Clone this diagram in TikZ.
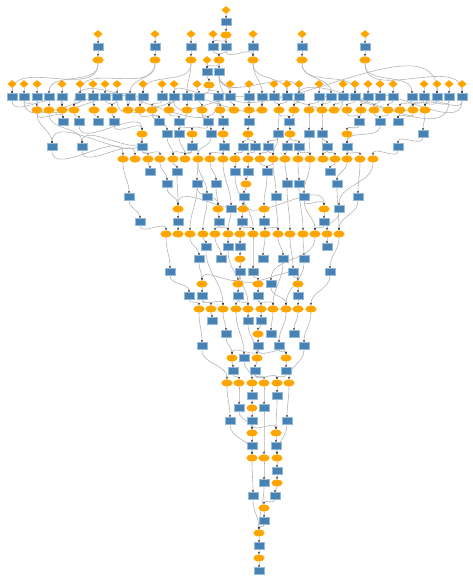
\documentclass[tikz,border=0pt]{standalone}
\usetikzlibrary{arrows.meta, shapes.geometric, backgrounds}
\definecolor{cblue}{HTML}{4682B4}
\definecolor{corange}{HTML}{FFA500}
\definecolor{cgrey}{HTML}{B4B4B4}
\tikzset{
  op/.style={rectangle, fill=cblue, draw=cblue!55!white, line width=0.3pt, inner sep=0pt, minimum width=7.5pt, minimum height=5.2pt},
  data/.style={ellipse, fill=corange, draw=none, inner sep=0pt, minimum width=8.4pt, minimum height=5.4pt},
  src/.style={diamond, fill=corange, draw=none, inner sep=0pt, minimum width=7pt, minimum height=6pt},
  edge/.style={-{Stealth[length=1.8pt, width=1.6pt, color=black!80]}, draw=cgrey, line width=0.45pt},
}

\begin{document}
\begin{tikzpicture}[x=0.75pt, y=-0.75pt]
  \useasboundingbox (0,0) rectangle (472,581);
  % operations
  \foreach \r/\y/\xs in {b/22/{226}, d/47/{98,155,191,213,226,253,302,365}, f/72/{207,219},
      h/97/{12,24,37,49,62,80,93,105,117,130,143,162,174,187,199,218,230,249,262,274,287,299,319,331,343,355,368,380,393,412,424,437,449,462},
      j/122/{63,79,98,114,159,179,208,223,249,289,359,380,398}, k/134/{167,179,211,278,309,322,423},
      l/147/{52,82,142,192,224,243,255,268,287,299,327,347,398}, n/172/{150,177,235,248,267,330},
      o/184/{167,197,216,287,299,337}, p/197/{129,207,244,276,304,358}, q/209/{231,339},
      r/222/{140,178,219,242,264,324}, t/247/{206,228,240,327}, u/259/{199,221,263,283,304},
      v/272/{170,240,253,293,330}, w/284/{271}, x/296/{189,202,238,258,298}, z/321/{212,248,261},
      aa/334/{226,271,294}, ab/346/{202,258,279,304}, ac/358/{244}, ad/371/{233,255,286},
      af/396/{252,277}, ag/408/{239,264}, ah/421/{230,252,287}, aj/446/{252,276}, al/471/{277},
      am/483/{264}, an/496/{253,275}, ap/521/{264}, ar/546/{259}, at/571/{259}} {
    \foreach \x in \xs \node[op] (\r\x) at (\x,\y) {};
  }
  % data
  \foreach \r/\y/\xs in {c/35/{226}, e/60/{98,155,191,219,253,302,365}, g/85/{209},
      i/110/{37,49,62,74,94,112,128,140,152,169,187,202,220,234,249,262,279,294,309,322,334,347,361,374,388,400,413,425},
      k/134/{142,192,223,248,290,347},
      m/159/{123,135,148,160,173,185,198,210,223,235,248,260,273,285,298,310,323,335,347,360,373},
      o/184/{246}, q/209/{178,218,243,264,324}, s/234/{166,178,190,203,215,228,240,253,265,278,290,303,315,327,339},
      u/259/{240}, w/284/{202,238,258,298}, y/309/{199,211,223,236,248,261,273,286,298,311},
      aa/334/{258}, ac/358/{232,257,286}, ae/383/{227,239,252,264,277,289}, ag/408/{252},
      ai/433/{252,276}, ak/458/{252,264,277}, am/483/{277}, ao/508/{264}, aq/533/{259}, as/558/{259}} {
    \foreach \x in \xs \node[data] (\r\x) at (\x,\y) {};
  }
  % sources
  \foreach \r/\y/\xs in {a/10/{226}, c/34/{98,155,191,213,253,302,365}, e/60/{207},
      g/84/{12,24,37,62,80,93,105,117,143,162,174,197,230,249,274,287,299,319,343,355,368,380,393,424,437,449,462}} {
    \foreach \x in \xs \node[src] (\r\x) at (\x,\y) {};
  }
  \begin{scope}[on background layer]
    \foreach \a/\b in {a226/b226, b226/c226,
        c98/d98, c155/d155, c191/d191, c213/d213, c226/d213, c226/d226, c253/d253, c302/d302, c365/d365,
        d98/e98, d155/e155, d191/e191, d213/e219, d226/e219, d226/e253, d253/e253, d302/e302, d365/e365,
        e207/f207, e219/f207, e219/f219, f207/g209,
        g12/h12, g24/h24, g37/h37, e98/h49, g62/h62, g80/h80, g93/h93, g105/h105, g117/h117, e155/h130,
        g143/h143, g162/h162, g174/h174, e191/h187, g197/h199, g209/h218, g230/h230, g249/h249, e253/h262,
        g274/h274, g287/h287, g299/h299, g319/h319, e302/h331, g343/h343, g355/h355, g368/h368, g380/h380,
        g393/h393, e365/h412, g424/h424, g437/h437, g449/h449, g462/h462,
        e98/h12, e155/h80, e191/h143, f219/h230, f219/h299, f219/h437, g209/h174, e253/h287, e302/h355, e365/h462,
        h24/i37, h37/i37, h49/i49, h12/i62, h62/i62, h80/i74, h93/i94, h105/i112, h117/i112, h130/i128,
        h143/i140, h162/i152, h174/i169, h187/i187, h199/i202, h218/i220, h230/i234, h249/i249, h262/i262,
        h274/i279, h287/i279, h299/i294, h319/i309, h331/i322, h343/i334, h355/i347, h368/i361, h380/i374,
        h393/i388, h412/i400, h424/i413, h437/i413, h449/i425, h462/i425,
        h24/i128, h37/i140, h117/i220, h174/i249, h218/i74, h262/i169, h343/i262, h412/i322, h462/i361, h449/i294,
        i62/j63, i37/j63, i74/j79, i94/j98, i112/j114, i152/j159, i140/j159, i169/j179, i202/j208, i220/j223,
        i249/j249, i294/j289, i279/j289, i361/j359, i347/j359, i374/j380, i388/j380, i400/j398, i413/j398,
        j79/k142, j114/k142, i152/k167, i187/k179, j179/k192, j208/k192, i202/k211, j223/k223, j249/k248,
        i279/k278, j289/k290, i309/k309, i322/k322, j359/k347, i425/k423,
        i37/l52, i49/l82, k142/l52, k142/l82, k142/l142, k192/l192, k223/l224, k248/l243, k248/l255, k278/l268,
        k290/l287, k290/l299, k322/l327, k347/l347, k423/l398, j380/l347,
        l52/m123, l82/m135, l142/m148, l142/m160, k167/m173, l192/m173, k179/m185, l192/m185, k211/m198,
        l224/m210, l224/m223, l243/m235, l255/m248, l268/m260, l268/m273, k278/m273, l287/m285, l299/m298,
        k309/m310, l299/m310, k322/m323, l327/m323, l327/m335, l347/m347, l347/m360, l398/m373,
        m148/n150, m173/n177, m235/n235, m248/n248, m260/n267, m273/n267, m335/n330,
        m160/o167, m198/o197, m210/o216, n248/o246, m285/o287, m298/o299, m347/o337,
        m123/p129, m198/p207, o246/p244, m273/p276, m310/p304, m360/p358,
        o167/q178, n177/q178, p244/q178, o216/q218, o197/q218, p244/q243, n267/q264, p244/q324, p304/q324,
        m223/q231, m373/q339,
        p129/r140, q178/r178, q218/r219, q243/r242, q264/r264, q324/r324,
        r140/s166, r178/s178, o197/s190, p207/s203, r219/s215, r219/s228, q231/s228, r242/s240, r242/s253,
        n235/s253, r264/s265, p276/s278, r264/s278, o287/s290, o299/s303, r324/s315, p304/s315, q339/s327,
        p358/s339, o337/s339,
        s203/t206, s228/t228, s240/t240, s327/t327,
        s190/u199, s215/u221, t240/u240, s265/u263, s278/u283, s303/u304,
        s166/v170, u240/v240, s253/v253, s290/v293, s339/v330,
        u199/w202, v240/w202, v240/w238, v253/w258, v240/w298, v293/w298, s315/w271,
        v170/x189, w202/x202, w238/x238, w258/x258, w298/x298,
        x189/y199, x202/y211, x202/y223, t206/y223, x238/y236, t228/y248, x238/y248, x258/y261, u283/y273,
        x258/y273, w271/y286, u304/y286, x298/y298, v330/y311,
        y211/z212, y248/z248, y261/z261,
        y223/aa226, z261/aa258, y273/aa271, y298/aa294,
        y199/ab202, aa258/ab258, y286/ab279, y311/ab304,
        aa226/ac232, ab258/ac232, z248/ac257, ab279/ac286, ab258/ac286, y236/ac244,
        ac232/ad233, ac257/ad255, ac286/ad286,
        ab202/ae227, ad233/ae239, ac244/ae252, ad255/ae264, ad255/ae277, ad286/ae277, ab304/ae289,
        ae252/af252, ae277/af277, ae239/ag239, af252/ag252, ae264/ag264,
        ae227/ah230, ag252/ah252, ae289/ah287,
        ah252/ai252, ag239/ai252, af277/ai276, ah252/ai276, ai252/aj252, ai276/aj276,
        aj252/ak252, ah230/ak252, ag264/ak264, aj276/ak277, ah287/ak277,
        ak277/al277, ak264/am264, al277/am277, ak252/an253, am277/an275, an275/ao264, ao264/ap264,
        ap264/aq259, an253/aq259, am264/aq259, aq259/ar259, ar259/as259, as259/at259}
      \draw[edge] (\a) to[out=-90, in=90] (\b);
  \end{scope}
\end{tikzpicture}
\end{document}
